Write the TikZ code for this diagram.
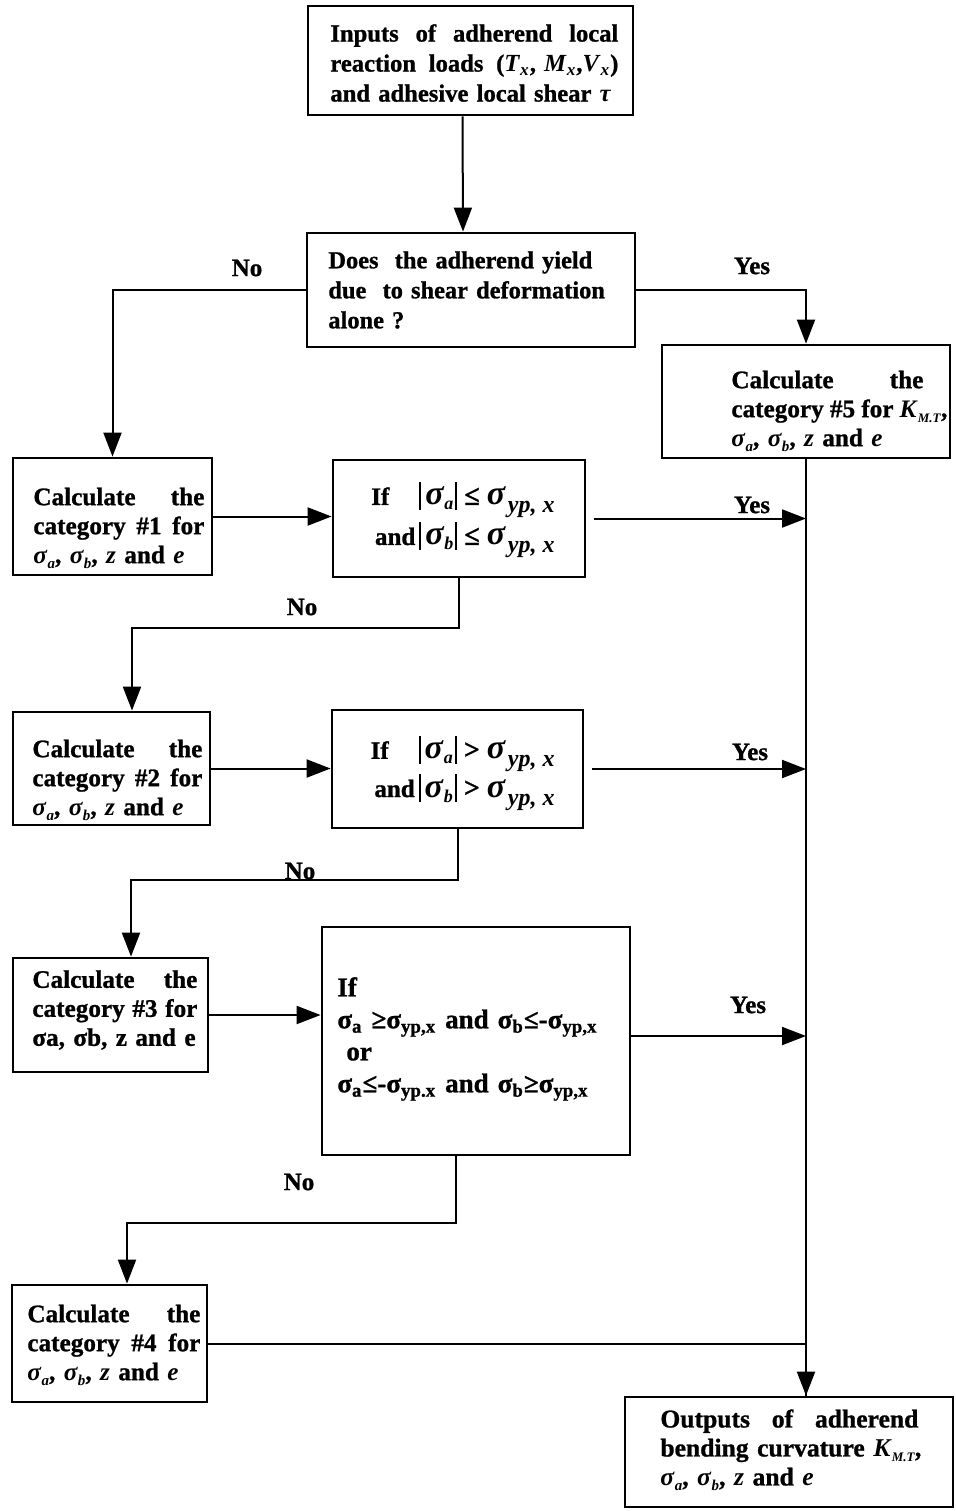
\documentclass[tikz,border=0pt]{standalone}
\usepackage{fontspec}
\setmainfont[BoldFeatures={FakeBold=1}]{Liberation Serif}
\usetikzlibrary{arrows.meta,calc}

% stretchable gap for justified lines
\newcommand\hf{\hskip 0pt plus 1filll\relax}
\newcommand\jline[2]{\leavevmode\hbox to #1{#2}}
\newcommand\lo[1]{\textsubscript{#1}}
\newcommand\tlo[1]{\raisebox{-2.5pt}{\fontsize{7.5}{7.5}\selectfont\textit{#1}}}
\newcommand\isig{\textit{σ}}
\newcommand\sab{\isig\tlo{a}, \isig\tlo{b}, \textit{z} and \textit{e}}
\newcommand\kmt{\textit{K}\raisebox{-2.5pt}{\fontsize{6.5}{6.5}\selectfont\textit{M.T}}}
% large symbols of the yield tests
\newcommand\bigsig{{\fontsize{17}{17}\selectfont\textit{σ}}}
\newcommand\absbar{\vrule width 1pt height 11.5pt depth 2.5pt}
\newcommand\rel[1]{\hspace{3.5pt}{\fontsize{14}{14}\selectfont #1}\hspace{3.5pt}}
\newcommand\yps{\hspace{1pt}\raisebox{-4pt}{\fontsize{12}{12}\selectfont\textit{yp,\hspace{3pt}x}}}
\newcommand\sublo[1]{\raisebox{-2.5pt}{\fontsize{9}{9}\selectfont\textit{#1}}}

\tikzset{
  box/.style={draw, line width=1.4pt, inner sep=0pt},
  txt/.style={inner sep=0pt, align=left, anchor=west,
              font=\bfseries\fontsize{12.6}{14.5}\selectfont},
  lab/.style={inner sep=0pt, font=\bfseries\fontsize{12.5}{14}\selectfont},
  link/.style={line width=1pt},
  arr/.style={link, -{Triangle[length=12pt,width=9pt]}},
}

\begin{document}
\begin{tikzpicture}[x=0.5pt,y=-0.5pt]
\useasboundingbox (0,0) rectangle (955,1511);

% ---- boxes ----
\node[box, minimum width=162.5pt, minimum height=54.5pt] (in)  at (470.5,60.5) {};
\node[box, minimum width=164pt,   minimum height=57pt]   (dec) at (471,290) {};
\node[box, minimum width=144pt,   minimum height=56.5pt] (c5)  at (806,401.5) {};
\node[box, minimum width=99.5pt,  minimum height=58.5pt] (c1)  at (112.5,516.5) {};
\node[box, minimum width=126pt,   minimum height=58.5pt] (q1)  at (459,518.5) {};
\node[box, minimum width=98.5pt,  minimum height=56.5pt] (c2)  at (111.5,768.5) {};
\node[box, minimum width=125.5pt, minimum height=59pt]   (q2)  at (457.5,769) {};
\node[box, minimum width=97.5pt,  minimum height=57pt]   (c3)  at (110.5,1015) {};
\node[box, minimum width=154pt,   minimum height=114pt]  (q3)  at (476,1041) {};
\node[box, minimum width=97.5pt,  minimum height=58.5pt] (c4)  at (109.5,1343.5) {};
\node[box, minimum width=164pt,   minimum height=55pt]   (out) at (789,1452) {};

% ---- texts ----
\node[txt, text width=144pt, font=\bfseries\fontsize{12.3}{15}\selectfont] (inT) at (330,63) {%
  \jline{144pt}{Inputs\hf of\hf adherend\hf local}\\
  \jline{144pt}{reaction\hf loads\hf (\textit{T}\lo{\textit{x}}, \textit{M}\lo{\textit{x}},\textit{V}\lo{\textit{x}})}\\
  \mbox{and adhesive local shear \textit{τ}}};
\node[txt, text width=150pt, font=\bfseries\fontsize{12.2}{15}\selectfont] (decT) at (328,290) {%
  \mbox{Does\ \ the adherend yield}\\
  \mbox{due\ \ to shear deformation}\\
  \mbox{alone ?}};
\node[txt, text width=96pt] (c5T) at (731,411) {%
  \jline{96pt}{Calculate\hf the}\\
  \jline{108pt}{category\hf \#5\hf for\hf \kmt,}\\
  \sab};
\node[txt, text width=85.5pt] (c1T) at (33,528) {%
  \jline{85.5pt}{Calculate\hf the}\\
  \jline{85.5pt}{category\hf \#1\hf for}\\
  \sab};
\node[txt, text width=85pt] (c2T) at (32,780) {%
  \jline{85pt}{Calculate\hf the}\\
  \jline{85pt}{category\hf \#2\hf for}\\
  \sab};
\node[txt, text width=82.5pt] (c3T) at (32,1010) {%
  \jline{82.5pt}{Calculate\hf the}\\
  \jline{82.5pt}{category\hf \#3\hf for}\\
  σa, σb, z and e};
\node[txt, text width=86.5pt] (c4T) at (27,1345) {%
  \jline{86.5pt}{Calculate\hf the}\\
  \jline{86.5pt}{category\hf \#4\hf for}\\
  \sab};
\node[txt, text width=134pt, font=\bfseries\fontsize{12.8}{14.5}\selectfont] (outT) at (660,1450) {%
  \jline{129pt}{Outputs\hf of\hf adherend}\\
  bending curvature \kmt,\\
  \sab};
\node[txt, anchor=east, align=right, font=\bfseries\fontsize{12.5}{20}\selectfont] (q1T) at (555,520) {%
  If\hspace{15pt}\absbar\hspace{2pt}\bigsig\sublo{a}\hspace{1pt}\absbar\rel{≤}\bigsig\yps\\
  and\hspace{2pt}\absbar\hspace{2pt}\bigsig\sublo{b}\hspace{1pt}\absbar\rel{≤}\bigsig\yps};
\node[txt, anchor=east, align=right, font=\bfseries\fontsize{12.5}{18}\selectfont] (q2T) at (555,773) {%
  If\hspace{15pt}\absbar\hspace{2pt}\bigsig\sublo{a}\hspace{1pt}\absbar\rel{>}\bigsig\yps\\
  and\hspace{2pt}\absbar\hspace{2pt}\bigsig\sublo{b}\hspace{1pt}\absbar\rel{>}\bigsig\yps};
\node[txt, text width=148pt, font=\bfseries\fontsize{13.5}{16}\selectfont] (q3T) at (337,1039) {%
  If\\
  \mbox{σ\lo{a} ≥σ\lo{yp,x} and σ\lo{b}≤-σ\lo{yp,x}}\\
  \ or\\
  \mbox{σ\lo{a}≤-σ\lo{yp.x} and σ\lo{b}≥σ\lo{yp,x}}};

% ---- connectors ----
\draw[arr] ([xshift=-4pt]in.south) -- ([xshift=-4pt]dec.north);
\draw[arr] (dec.west) -| (c1.north);
\draw[arr] (dec.east) -| (c5.north);

\draw[arr] (c1.east) -- (c1.east -| q1.west);
\draw[arr] (c2.east) -- (c2.east -| q2.west);
\draw[arr] (c3.east) -- (c3.east -| q3.west);

\coordinate (n1) at (132,628);
\coordinate (n2) at (131,880);
\coordinate (n3) at (127,1223);
\draw[arr] (q1.south) |- (n1) -- (n1 |- c2.north);
\draw[arr] (q2.south) |- (n2) -- (n2 |- c3.north);
\draw[arr] ([xshift=-10pt]q3.south) |- (n3) -- (n3 |- c4.north);

% main trunk on the right
\draw[link] (c5.south) -- (c5.south |- out.north);
\draw[arr] ([xshift=4pt]q1.east) -- (q1.east -| c5.south);
\draw[arr] ([xshift=4pt]q2.east) -- (q2.east -| c5.south);
\coordinate (y3) at (630,1036);
\draw[arr] (y3) -- (y3 -| c5.south);
\draw[link] (c4.east) -- (c4.east -| c5.south);
\draw[arr] (c5.south |- c4.east) -- (c5.south |- out.north);

% ---- branch labels ----
\node[lab] (no0)  at (247,268)  {No};
\node[lab] (yes0) at (752,266)  {Yes};
\node[lab] (yes1) at (752,505)  {Yes};
\node[lab] (no1)  at (302,607)  {No};
\node[lab] (yes2) at (750,752)  {Yes};
\node[lab] (no2)  at (300,871)  {No};
\node[lab] (yes3) at (748,1005) {Yes};
\node[lab] (no3)  at (299,1182) {No};
\end{tikzpicture}
\end{document}
